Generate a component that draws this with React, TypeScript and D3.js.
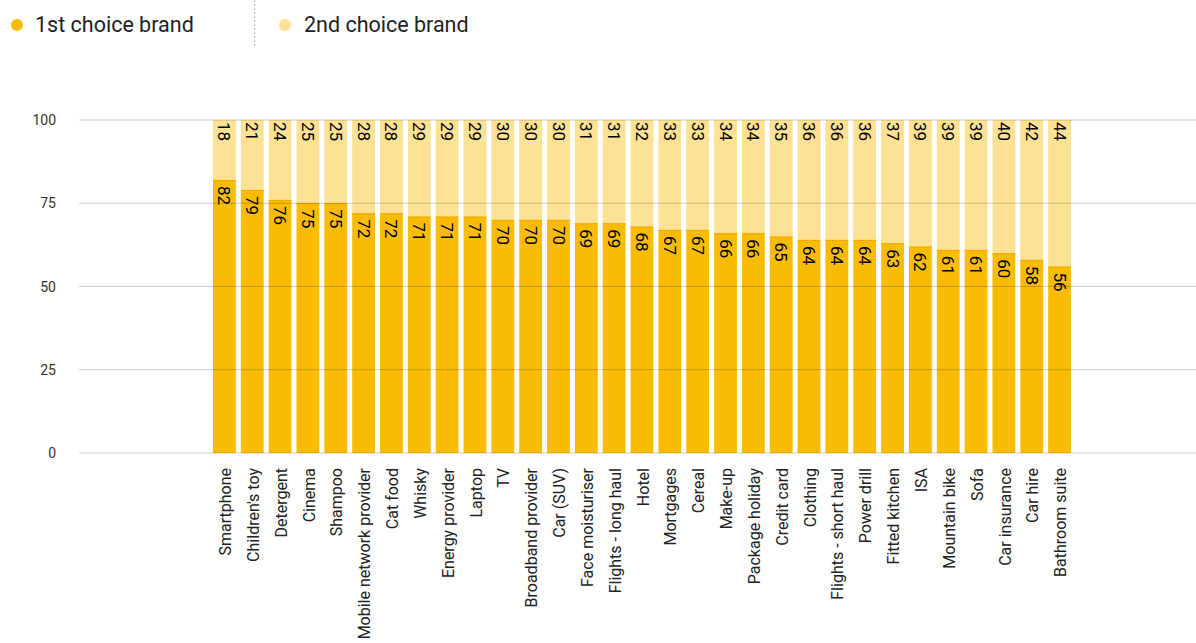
import React from "react";
import * as d3 from "d3";

const categories = ["Smartphone","Children's toy","Detergent","Cinema","Shampoo","Mobile network provider","Cat food","Whisky","Energy provider","Laptop","TV","Broadband provider","Car (SUV)","Face moisturiser","Flights - long haul","Hotel","Mortgages","Cereal","Make-up","Package holiday","Credit card","Clothing","Flights - short haul","Power drill","Fitted kitchen","ISA","Mountain bike","Sofa","Car insurance","Car hire","Bathroom suite"];
const firstChoice = [82,79,76,75,75,72,72,71,71,71,70,70,70,69,69,68,67,67,66,66,65,64,64,64,63,62,61,61,60,58,56];
const secondChoice = [18,21,24,25,25,28,28,29,29,29,30,30,30,31,31,32,33,33,34,34,35,36,36,36,37,39,39,39,40,42,44];
const yTicks = [0,25,50,75,100];
const seriesNames = ["1st choice brand","2nd choice brand"];

const W = 1196, H = 643;
const C1 = "#F9BC02", C2 = "#FDE194";
const FONT = "Roboto, 'Noto Sans', sans-serif";

export default function App() {
  const x = d3.scaleBand<string>().domain(categories).range([213, 1071]).paddingInner(0.18).paddingOuter(0);
  const y = d3.scaleLinear().domain([0, 100]).range([453, 120]).clamp(true);
  const bw = x.bandwidth();
  return (
    <svg width={W} height={H} style={{ position: "absolute", left: 0, top: 0, fontFamily: FONT }}>
      {/* legend */}
      <circle cx={17} cy={25} r={6} fill={C1} />
      <text x={35} y={32} fontSize={21.5} fill="#222">{seriesNames[0]}</text>
      <line x1={254.5} x2={254.5} y1={0} y2={47} stroke="#bbb" strokeDasharray="2,2" />
      <circle cx={285} cy={25} r={6} fill={C2} />
      <text x={304} y={32} fontSize={21.5} fill="#222">{seriesNames[1]}</text>

      {/* y tick labels */}
      {yTicks.map(t => (
        <text key={t} x={56} y={y(t) + 5} textAnchor="end" fontSize={14} fill="#333">{t}</text>
      ))}

      {/* bars */}
      {categories.map((c, i) => {
        const x0 = x(c)!;
        const a = firstChoice[i], b = secondChoice[i];
        return (
          <g key={c}>
            <rect x={x0} width={bw} y={y(a + b)} height={y(a) - y(a + b)} fill={C2} />
            <rect x={x0} width={bw} y={y(a)} height={y(0) - y(a)} fill={C1} />
            <line x1={x0} x2={x0 + bw} y1={y(a) + 0.5} y2={y(a) + 0.5} stroke="#F2A900" strokeWidth={1} />
          </g>
        );
      })}

      {/* gridlines */}
      {yTicks.map(t => (
        <line key={t} x1={79} x2={W} y1={y(t)} y2={y(t)} stroke="rgba(0,0,0,0.2)" strokeWidth={1} />
      ))}

      {/* value labels */}
      {categories.map((c, i) => {
        const cx = x(c)! + bw / 2;
        const a = firstChoice[i], b = secondChoice[i];
        return (
          <g key={c + "l"} fontSize={17} fill="#000">
            <text transform={`translate(${cx},${y(a + b) + 2}) rotate(90)`} dy="0.35em" textAnchor="start">{b}</text>
            <text transform={`translate(${cx},${y(a) + 6}) rotate(90)`} dy="0.35em" textAnchor="start">{a}</text>
          </g>
        );
      })}

      {/* category labels */}
      {categories.map(c => (
        <text key={c + "c"} transform={`translate(${x(c)! + bw / 2 + 1},468) rotate(-90)`} dy="0.35em" textAnchor="end" fontSize={16} fill="#222">{c}</text>
      ))}
    </svg>
  );
}
